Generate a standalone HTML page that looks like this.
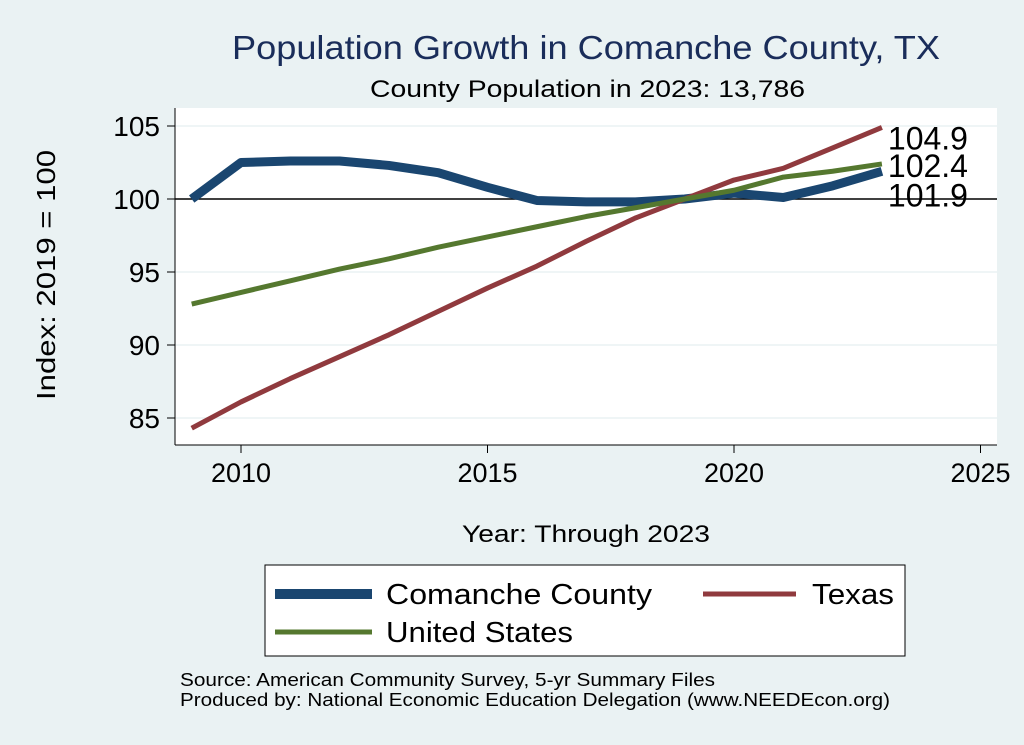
<!DOCTYPE html>
<html><head><meta charset="utf-8"><style>
body{margin:0;background:#eaf2f3;font-family:"Liberation Sans",sans-serif;}
svg{display:block}
</style></head><body>
<svg width="1024" height="745" xmlns="http://www.w3.org/2000/svg">
<rect width="1024" height="745" fill="#eaf2f3"/>
<text x="232" y="59" font-size="33" fill="#1a2d5a" textLength="708" lengthAdjust="spacingAndGlyphs">Population Growth in Comanche County, TX</text>
<text x="370" y="97" font-size="24" fill="#000" textLength="435" lengthAdjust="spacingAndGlyphs">County Population in 2023: 13,786</text>
<rect x="175" y="108" width="822" height="337" fill="#fff"/>
<g id="grid"></g>
<g id="axes"></g>
<g id="series"></g>
<text x="55" y="400" font-size="26" textLength="250" lengthAdjust="spacingAndGlyphs" transform="rotate(-90 55 400)">Index: 2019 = 100</text>
<text x="462" y="542" font-size="24" textLength="248" lengthAdjust="spacingAndGlyphs">Year: Through 2023</text>
<g>
<rect x="265" y="565" width="640" height="91" fill="#fff" stroke="#000" stroke-width="1"/>
<line x1="275" y1="594" x2="372" y2="594" stroke="#1a4670" stroke-width="10"/>
<text x="386" y="604" font-size="29" textLength="266" lengthAdjust="spacingAndGlyphs">Comanche  County</text>
<line x1="703" y1="594" x2="796" y2="594" stroke="#903a3e" stroke-width="5"/>
<text x="812" y="604" font-size="29" textLength="82" lengthAdjust="spacingAndGlyphs">Texas</text>
<line x1="275" y1="632" x2="372" y2="632" stroke="#55782f" stroke-width="5"/>
<text x="386" y="642" font-size="29" textLength="187" lengthAdjust="spacingAndGlyphs">United States</text>
</g>
<text x="180" y="686" font-size="18" textLength="535" lengthAdjust="spacingAndGlyphs">Source: American Community Survey, 5-yr Summary Files</text>
<text x="180" y="706" font-size="18" textLength="710" lengthAdjust="spacingAndGlyphs">Produced by: National Economic Education Delegation (www.NEEDEcon.org)</text>
</svg>
<script>
const years=[2009,2010,2011,2012,2013,2014,2015,2016,2017,2018,2019,2020,2021,2022,2023];
const comanche=[100,102.5,102.6,102.6,102.3,101.8,100.8,99.9,99.8,99.8,100,100.4,100.1,100.9,101.9];
const texas=[84.3,86.1,87.7,89.2,90.7,92.3,93.9,95.4,97.1,98.7,100,101.3,102.1,103.5,104.9];
const us=[92.8,93.6,94.4,95.2,95.9,96.7,97.4,98.1,98.8,99.4,100,100.6,101.5,101.9,102.4];
const xTicks=[2010,2015,2020,2025];
const yTicks=[85,90,95,100,105];
const NS="http://www.w3.org/2000/svg";
function x(v){return 241+(v-2010)*49.3;}
function y(v){return 199-(v-100)*14.6;}
function mk(tag,attrs,parent,text){const e=document.createElementNS(NS,tag);for(const k in attrs)e.setAttribute(k,attrs[k]);if(text!==undefined)e.textContent=text;document.getElementById(parent).appendChild(e);return e;}
yTicks.forEach(t=>{
 const g=mk('line',{x1:175,x2:997,y1:y(t),y2:y(t),stroke:t===100?'#000':'#eaf2f3','stroke-width':1.5},'grid');
 
 
 const tk=mk('line',{x1:167,x2:175,y1:y(t),y2:y(t),stroke:'#000'},'axes');
 
 
 const l=mk('text',{x:160,y:y(t)+10,'font-size':28,'text-anchor':'end'},'axes',t);
 
 
});
xTicks.forEach(t=>{
 const tk=mk('line',{x1:x(t),x2:x(t),y1:445,y2:453,stroke:'#000'},'axes');
 
 
 const l=mk('text',{x:x(t),y:482,'font-size':27,'text-anchor':'middle'},'axes',t);
 
 
});
const ya=mk('line',{x1:175,x2:175,y1:108,y2:445,stroke:'#000'},'axes');


const xa=mk('line',{x1:175,x2:997,y1:445,y2:445,stroke:'#000'},'axes');


function line(vals,color,w,name){
 const p=mk('polyline',{points:vals.map((v,i)=>x(years[i])+','+y(v)).join(' '),fill:'none',stroke:color,'stroke-width':w,'stroke-linejoin':'round'},'series');
 
 
 const n=vals.length-1;
 return [x(years[n]),y(vals[n]),vals[n]];
}
const c=line(comanche,'#1a4670',9,'line-comanche');
const t=line(texas,'#903a3e',5,'line-texas');
const u=line(us,'#55782f',5,'line-us');
[[t,'texas',22],[u,'us',13],[c,'comanche',35]].forEach(([p,n,dy])=>{
 const l=mk('text',{x:p[0]+6,y:p[1]+dy,'font-size':32},'series',p[2].toFixed(1));
 
 
});
</script>
</body></html>
